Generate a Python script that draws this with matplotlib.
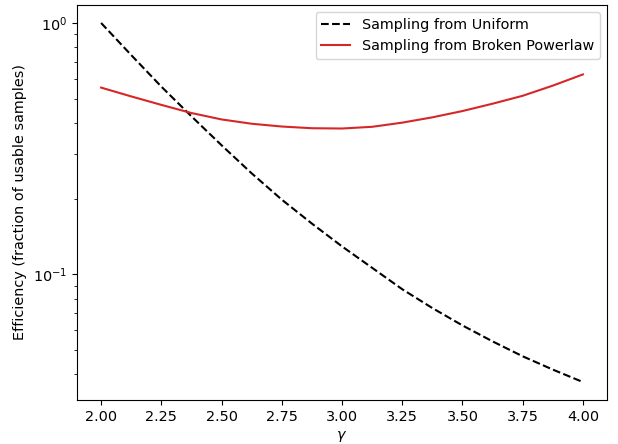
import matplotlib
matplotlib.use("Agg")
import matplotlib.pyplot as plt

plt.rcParams['font.size'] = 10.4

gamma = [2.0, 2.125, 2.25, 2.375, 2.5, 2.625, 2.75, 2.875, 3.0,
         3.125, 3.25, 3.375, 3.5, 3.625, 3.75, 3.875, 4.0]
eff_uniform = [1.0, 0.745, 0.558, 0.425, 0.326, 0.252, 0.198, 0.159, 0.129,
               0.106, 0.0871, 0.0733, 0.0625, 0.054, 0.0471, 0.0417, 0.0372]
eff_bpl = [0.553, 0.51, 0.472, 0.438, 0.413, 0.397, 0.387, 0.381, 0.380,
           0.386, 0.401, 0.421, 0.446, 0.477, 0.513, 0.563, 0.624]

fig = plt.figure(figsize=(6.18, 4.44), dpi=100)
ax = fig.add_axes([77/618, 1 - 400/444, (607 - 77)/618, (400 - 5)/444])
ax.plot(gamma, eff_uniform, 'k--', label='Sampling from Uniform')
ax.plot(gamma, eff_bpl, color='tab:red', label='Sampling from Broken Powerlaw')
ax.set_yscale('log')
ax.set_xlabel(r'$\gamma$')
ax.set_ylabel('Efficiency (fraction of usable samples)')
ax.legend(loc='upper right')
fig.savefig('out.png', dpi=100)
